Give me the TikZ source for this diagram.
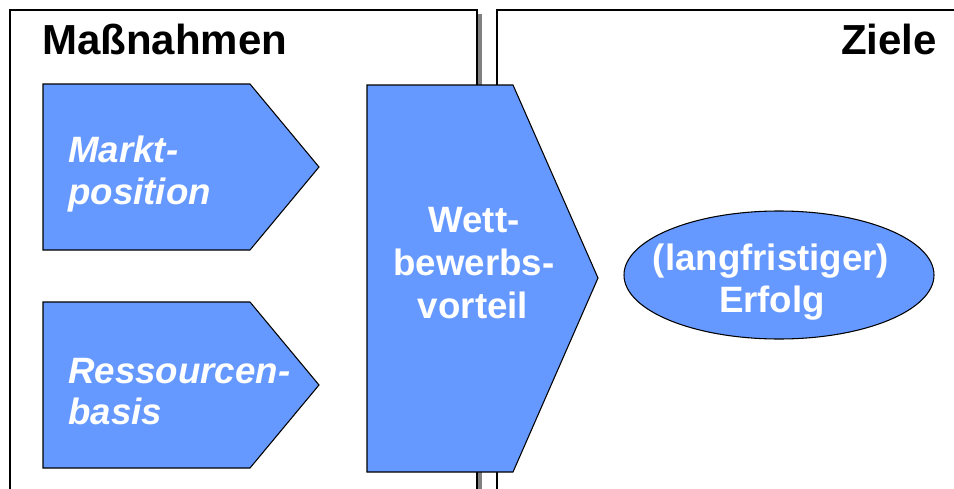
\documentclass[tikz,border=0pt]{standalone}
\usepackage{fontspec}
\setmainfont{Liberation Sans}
\definecolor{shapeblue}{RGB}{102,153,255}
\definecolor{shadowgray}{RGB}{128,128,128}
\tikzset{
  panel/.style={draw=black, line width=1.4pt},
  panelshadow/.style={fill=shadowgray, draw=none},
  blueshape/.style={fill=shapeblue, draw=black, line width=0.8pt, line join=miter},
  heading/.style={font=\bfseries\fontsize{31.5}{36}\selectfont, text=black, inner sep=0pt},
  itxt/.style={font=\bfseries\itshape\fontsize{27.5}{32}\selectfont, text=white, inner sep=0pt},
  ctxt/.style={font=\bfseries\fontsize{27.5}{32}\selectfont, text=white, inner sep=0pt}
}
\begin{document}
\begin{tikzpicture}[x=0.75pt,y=-0.75pt]
\useasboundingbox (0,0) rectangle (954,489);
\clip (0,0) rectangle (954,489);
% panels
\fill[panelshadow] (477,14) rectangle (481.5,500);
\draw[panel] (10,500) -- (10,10) -- (477,10) -- (477,500);
\draw[panel] (497,500) -- (497,10) -- (960,10);
\node[heading, anchor=base west] (hleft) at (42,54) {Maßnahmen};
\node[heading, anchor=base east] (hright) at (937,54) {Ziele};
% left pentagons
\draw[blueshape] (43,84) -- (250,84) -- (319,167) -- (250,250) -- (43,250) -- cycle;
\draw[blueshape] (43,302) -- (250,302) -- (319,385) -- (250,468) -- (43,468) -- cycle;
\node[itxt, anchor=base west] (m1) at (68,162) {Markt-};
\node[itxt, anchor=base west] (m2) at (68,204) {position};
\node[itxt, anchor=base west] (r1) at (68,383) {Ressourcen-};
\node[itxt, anchor=base west] (r2) at (68,424) {basis};
% big pentagon
\draw[blueshape] (367,85) -- (513,85) -- (598,278) -- (513,472) -- (367,472) -- cycle;
\node[ctxt, anchor=base] (w1) at (474,232) {Wett-};
\node[ctxt, anchor=base] (w2) at (474,275) {bewerbs-};
\node[ctxt, anchor=base] (w3) at (473,318) {vorteil};
% ellipse
\draw[blueshape] (779,275) ellipse [x radius=155, y radius=64];
\node[ctxt, anchor=base] (e1) at (771,270) {(langfristiger)};
\node[ctxt, anchor=base] (e2) at (772,312) {Erfolg};
\end{tikzpicture}
\end{document}
